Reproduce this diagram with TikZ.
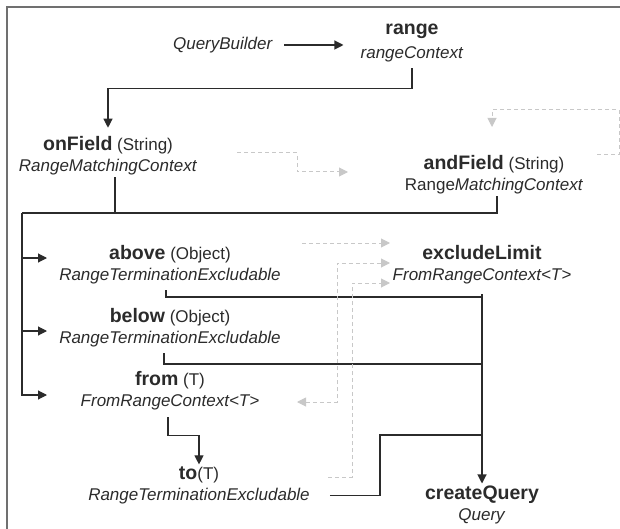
\documentclass[tikz,border=0pt]{standalone}
\usepackage{fontspec}
\setmainfont{Liberation Sans}
\usetikzlibrary{positioning,arrows.meta}

\definecolor{ink}{HTML}{2B2B2B}
\definecolor{ghostgrey}{HTML}{C8C8C8}
\definecolor{framegrey}{HTML}{707070}

\newcommand{\mname}[1]{{\fontsize{19.5}{21.5}\selectfont\bfseries #1}}

\begin{document}
\begin{tikzpicture}[x=1pt, y=-1pt, >={Triangle[length=9pt,width=9pt]},
  method/.style={align=center, text=ink, font=\fontsize{17}{21.5}\selectfont, inner sep=2pt},
  link/.style={draw=ink, line width=1.1pt},
  ghost/.style={draw=ghostgrey, line width=1pt, dash pattern=on 4pt off 3pt}]
  \useasboundingbox (0,0) rectangle (620,529);
  \draw[framegrey, line width=1.2pt] (7,529) -- (7,7) -- (620,7);

  \node (qb) at (223,45) [method] {\textit{QueryBuilder}};
  \node (range) at (412,43) [method] {\mname{range}\\[3pt]\textit{rangeContext}};
  \node (onField) at (108,155.5) [method] {\mname{onField} (String)\\\textit{RangeMatchingContext}};
  \node (andField) at (494,174.5) [method] {\mname{andField} (String)\\Range\textit{MatchingContext}};
  \node (above) at (170,264.5) [method] {\mname{above} (Object)\\\textit{RangeTerminationExcludable}};
  \node (excl) at (482,264.5) [method] {\mname{excludeLimit}\\\textit{FromRangeContext<T>}};
  \node (below) at (170,327.5) [method] {\mname{below} (Object)\\\textit{RangeTerminationExcludable}};
  \node (from) at (170,390.5) [method] {\mname{from} (T)\\\textit{FromRangeContext<T>}};
  \node (to) at (199,485.5) [method] {\mname{to}(T)\\\textit{RangeTerminationExcludable}};
  \node (cq) at (482,505) [method] {\mname{createQuery}\\\textit{Query}};

  % junctions
  \coordinate (bus) at (22,213);
  \coordinate (tip) at (47,0);
  \coordinate (ja) at (482,297);
  \coordinate (jb) at (482,364);
  \coordinate (jc) at (482,435);
  \coordinate (jd) at (380,435);

  \draw[link,->,shorten <=9pt,shorten >=15pt] (qb.east) -- (qb.east -| range.west);
  \draw[link,->,shorten <=4pt,shorten >=6pt] (range.south) -- ++(0,24) -| (onField.north);
  \draw[link] ([xshift=7pt]onField.south) |- (bus);
  \draw[link] ([xshift=3pt]andField.south) |- (bus);
  \draw[link,->] (bus) |- ([yshift=6.5pt]above.west -| tip);
  \draw[link,->] (bus) |- ([yshift=-3.5pt]below.west -| tip);
  \draw[link,->] (bus) |- ([yshift=-4.5pt]from.west -| tip);
  \draw[link,shorten <=4pt] ([xshift=-4pt]above.south) |- (ja);
  \draw[link,shorten <=4pt] ([xshift=-6pt]below.south) |- (jb);
  \draw[link,->,shorten <=8pt] (cq.north |- excl.south) -- (cq.north);
  \draw[link,->,shorten <=5pt] ([xshift=-2pt]from.south) -- ++(0,23) -| (to.north);
  \draw[link,shorten <=18pt] ([yshift=-10pt]to.east) -| (jd) -- (jc);

  % dashed alternatives
  \coordinate (g0a) at (237,153);
  \coordinate (g0b) at (297,172);
  \coordinate (g0c) at (348,172);
  \coordinate (g1a) at (302,243);
  \coordinate (g1b) at (390,243);
  \coordinate (g2a) at (297,402);
  \coordinate (g2b) at (337,263);
  \coordinate (g2c) at (390,263);
  \coordinate (g3a) at (328,477);
  \coordinate (g3b) at (352,283);
  \coordinate (g3c) at (390,283);
  \coordinate (g4a) at (597,155);
  \coordinate (g4b) at (619,110);
  \coordinate (g4c) at (492,127);
  \draw[ghost,->] (g0a) -| (g0b) -- (g0c);
  \draw[ghost,->] (g1a) -- (g1b);
  \draw[ghost,<->] (g2a) -| (g2b) -- (g2c);
  \draw[ghost,->] (g3a) -| (g3b) -- (g3c);
  \draw[ghost,->] (g4a) -| (g4b) -| (g4c);
\end{tikzpicture}
\end{document}
